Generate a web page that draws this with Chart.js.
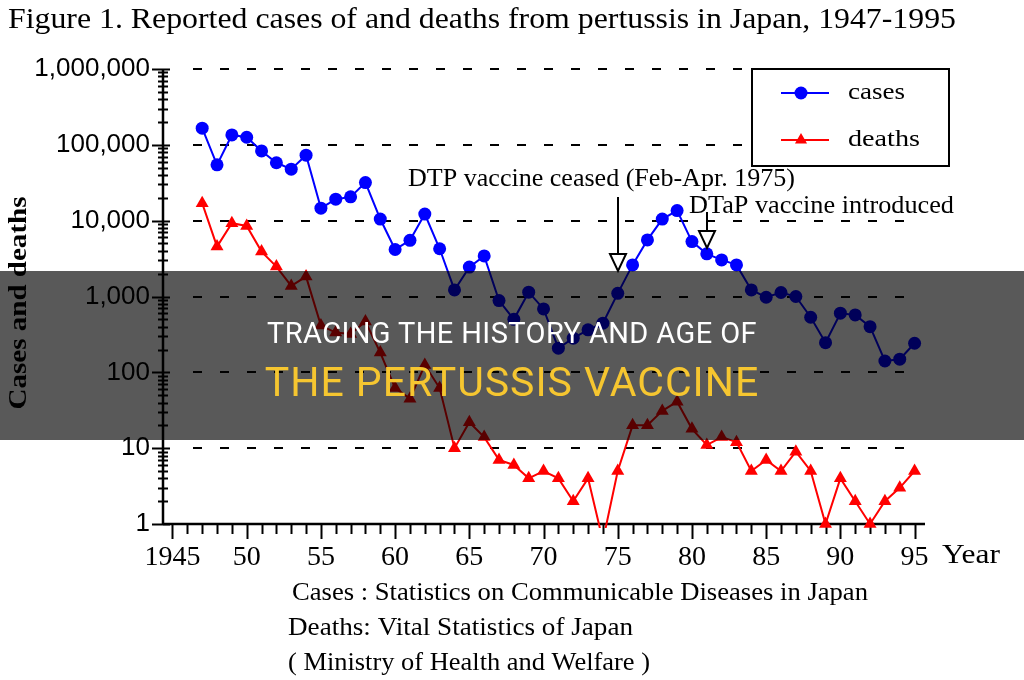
<!DOCTYPE html>
<html><head><meta charset="utf-8">
<script src="https://cdn.jsdelivr.net/npm/chart.js@4.4.1/dist/chart.umd.min.js"></script>
<style>
html,body{margin:0;padding:0;background:#fff;}
#wrap{position:relative;width:1024px;height:680px;overflow:hidden;background:#fff;}
canvas{display:block;}
#band{position:absolute;left:0;top:271px;width:1024px;height:169px;background:rgba(0,0,0,0.65);font-family:Roboto,'Open Sans',sans-serif;text-align:center;}
#l1{position:absolute;left:0;width:100%;top:48px;line-height:29px;font-size:29px;letter-spacing:0.4px;color:#ffffff;}
#l2{position:absolute;left:0;width:100%;top:91px;line-height:41px;font-size:41px;letter-spacing:1px;color:#f6c630;}
</style></head>
<body><div id="wrap"><canvas id="c" width="1024" height="680"></canvas>
<div id="band"><div id="l1">TRACING THE HISTORY AND AGE OF</div><div id="l2">THE PERTUSSIS VACCINE</div></div></div>
<script>
const years = [1947,1948,1949,1950,1951,1952,1953,1954,1955,1956,1957,1958,1959,1960,1961,1962,1963,1964,1965,1966,1967,1968,1969,1970,1971,1972,1973,1974,1975,1976,1977,1978,1979,1980,1981,1982,1983,1984,1985,1986,1987,1988,1989,1990,1991,1992,1993,1994,1995];
const cases = [166000,54500,135000,126000,83000,58000,47800,73000,14600,19200,20600,31800,10500,4170,5500,12200,4260,1220,2440,3430,883,500,1140,686,208,282,363,445,1100,2610,5580,10500,13600,5300,3650,3040,2610,1220,977,1130,1000,533,246,602,571,400,141,149,242];
const deaths = [17000,4550,9270,8530,3910,2480,1380,1830,413,334,321,467,182,62,45,125,62,10,22,14,7,6,4,5,4,2,4,0,5,20,20,31,41,18,11,14,12,5,7,5,9,5,1,4,2,1,2,3,5];
const seriesNames = ['cases','deaths'];
const yTicks = [1,10,100,1000,10000,100000,1000000];
const yTickLabels = ['1','10','100','1,000','10,000','100,000','1,000,000'];
const xTicks = [1945,1950,1955,1960,1965,1970,1975,1980,1985,1990,1995];
const xTickLabels = ['1945','50','55','60','65','70','75','80','85','90','95'];
const annotationYears = [1975,1981];
const annotationTexts = ['DTP vaccine ceased (Feb-Apr. 1975)','DTaP vaccine introduced'];
const titleText = 'Figure 1. Reported cases of and deaths from pertussis in Japan, 1947-1995';
const yAxisTitle = 'Cases and deaths';
const xAxisUnit = 'Year';
const sourceLines = ['Cases : Statistics on Communicable Diseases in Japan','Deaths: Vital Statistics of Japan','( Ministry of Health and Welfare )'];

const BLUE = '#0000ff', RED = '#ff0000';
const SERIF = '"Liberation Serif","DejaVu Serif",serif';
const BELOW_AXIS = 0.6; // where a zero count is plotted (below the log axis, clipped)

function drawFit(ctx, text, x, y, w, font, align) {
  ctx.save();
  ctx.font = font;
  const m = ctx.measureText(text).width;
  ctx.translate(x, y);
  ctx.scale(w / m, 1);
  ctx.textBaseline = 'middle';
  ctx.textAlign = align || 'left';
  ctx.fillText(text, 0, 0);
  ctx.restore();
}

const framePlugin = {
  id: 'frame',
  beforeDatasetsDraw(chart) {
    const {ctx, chartArea: ca, scales: {x, y}} = chart;
    ctx.save();
    ctx.strokeStyle = '#000';
    ctx.lineWidth = 2.2;
    ctx.setLineDash([9, 18]);
    yTicks.forEach(v => {
      if (v === yTicks[0]) return;
      const py = Math.round(y.getPixelForValue(v));
      ctx.beginPath(); ctx.moveTo(ca.left + 30, py); ctx.lineTo(ca.right - 4, py); ctx.stroke();
    });
    ctx.setLineDash([]);
    ctx.lineWidth = 2.5;
    ctx.beginPath(); ctx.moveTo(ca.left, ca.top); ctx.lineTo(ca.left, ca.bottom + 1); ctx.stroke();
    ctx.beginPath(); ctx.moveTo(ca.left, ca.bottom); ctx.lineTo(ca.right + 3, ca.bottom); ctx.stroke();
    ctx.lineWidth = 2;
    for (let d = 1; d <= 1000000; d *= 10) {
      for (let m = 1; m <= (d === 1000000 ? 1 : 9); m++) {
        const py = Math.round(y.getPixelForValue(d * m)) + 0.5;
        const major = m === 1;
        ctx.beginPath();
        ctx.moveTo(ca.left - (major ? 11 : 5), py);
        ctx.lineTo(ca.left + (major ? 7 : 5), py);
        ctx.stroke();
      }
    }
    for (let yr = 1945; yr <= 1995; yr++) {
      const px = Math.round(x.getPixelForValue(yr)) + 0.5;
      const major = yr % 5 === 0;
      ctx.beginPath(); ctx.moveTo(px, ca.bottom); ctx.lineTo(px, ca.bottom + (major ? 15 : 10)); ctx.stroke();
    }
    ctx.restore();
  },
  afterDraw(chart) {
    const {ctx, scales: {x, y}} = chart;
    ctx.save();
    ctx.fillStyle = '#000';
    drawFit(ctx, titleText, 8, 20, 948, '30px ' + SERIF);
    ctx.save();
    ctx.translate(19, 303);
    ctx.rotate(-Math.PI / 2);
    drawFit(ctx, yAxisTitle, 0, 0, 213, 'bold 26px ' + SERIF, 'center');
    ctx.restore();
    drawFit(ctx, xAxisUnit, 942, 556, 58, '28px ' + SERIF);
    ctx.fillStyle = '#fff';
    ctx.fillRect(752, 69, 197, 97);
    ctx.strokeStyle = '#000'; ctx.lineWidth = 2;
    ctx.strokeRect(752, 69, 197, 97);
    const rows = [{c: BLUE, y: 93, w: 57, style: 'circle'}, {c: RED, y: 140, w: 72, style: 'triangle'}];
    rows.forEach((r, i) => {
      ctx.strokeStyle = r.c; ctx.fillStyle = r.c; ctx.lineWidth = 2;
      ctx.beginPath(); ctx.moveTo(781, r.y); ctx.lineTo(829, r.y); ctx.stroke();
      Chart.helpers.drawPoint(ctx, {pointStyle: r.style, radius: i ? 7 : 6.5, borderWidth: 0}, 801, r.y);
      ctx.fillStyle = '#000';
      drawFit(ctx, seriesNames[i], 848, r.y, r.w, '24px ' + SERIF);
    });
    ctx.fillStyle = '#000';
    drawFit(ctx, annotationTexts[0], 408, 179, 387, '25px ' + SERIF);
    drawFit(ctx, annotationTexts[1], 689, 206, 265, '25px ' + SERIF);
    const arrows = [{yr: annotationYears[0], top: 197, tip: 271}, {yr: annotationYears[1], top: 212, tip: 248}];
    arrows.forEach(a => {
      const px = Math.round(x.getPixelForValue(a.yr));
      ctx.strokeStyle = '#000'; ctx.lineWidth = 2;
      ctx.beginPath(); ctx.moveTo(px, a.top); ctx.lineTo(px, a.tip - 17); ctx.stroke();
      ctx.beginPath();
      ctx.moveTo(px - 8, a.tip - 17); ctx.lineTo(px + 8, a.tip - 17); ctx.lineTo(px, a.tip); ctx.closePath();
      ctx.fillStyle = '#fff'; ctx.fill(); ctx.stroke();
    });
    ctx.fillStyle = '#000';
    drawFit(ctx, sourceLines[0], 292, 593, 576, '25px ' + SERIF);
    drawFit(ctx, sourceLines[1], 288, 628, 345, '25px ' + SERIF);
    drawFit(ctx, sourceLines[2], 288, 663, 362, '25px ' + SERIF);
    ctx.restore();
  }
};

const CLIP = {left: 12, top: 12, right: 12, bottom: 4};
new Chart(document.getElementById('c'), {
  type: 'line',
  data: {
    datasets: [
      {
        label: seriesNames[0],
        data: years.map((yr, i) => ({x: yr, y: cases[i]})),
        borderColor: BLUE, backgroundColor: BLUE, borderWidth: 2,
        pointStyle: 'circle', pointRadius: 6.5, pointBorderWidth: 0, pointBackgroundColor: BLUE,
        tension: 0, clip: CLIP
      },
      {
        label: seriesNames[1],
        data: years.map((yr, i) => ({x: yr, y: deaths[i] > 0 ? deaths[i] : BELOW_AXIS})),
        borderColor: RED, backgroundColor: RED, borderWidth: 2,
        pointStyle: 'triangle', pointBorderWidth: 0, pointBackgroundColor: RED,
        pointRadius: c => (c.raw && c.raw.y < 1 ? 0 : 7.5),
        tension: 0, clip: CLIP
      }
    ]
  },
  options: {
    responsive: false, animation: false, devicePixelRatio: 1,
    layout: {padding: {left: 0, top: 69, right: 102, bottom: 0}},
    plugins: {legend: {display: false}, tooltip: {enabled: false}, title: {display: false}},
    scales: {
      x: {
        type: 'linear', min: 1944.36, max: 1995.5,
        grid: {display: false, drawTicks: false}, border: {display: false},
        afterBuildTicks: s => { s.ticks = xTicks.map(v => ({value: v})); },
        afterFit: s => { s.height = 680 - 524; },
        ticks: {autoSkip: false, maxRotation: 0, padding: 17, color: '#000',
          font: {family: SERIF, size: 28},
          callback: (v, i) => xTickLabels[i]}
      },
      y: {
        type: 'logarithmic', min: 1, max: 1000000,
        grid: {display: false, drawTicks: false}, border: {display: false},
        afterBuildTicks: s => { s.ticks = yTicks.map(v => ({value: v})); },
        afterFit: s => { s.width = 163; },
        ticks: {autoSkip: false, padding: 13, color: '#000',
          font: {family: '"Liberation Sans",Arial,sans-serif', size: 26},
          callback: (v, i) => yTickLabels[i]}
      }
    }
  },
  plugins: [framePlugin]
});
</script></body></html>
